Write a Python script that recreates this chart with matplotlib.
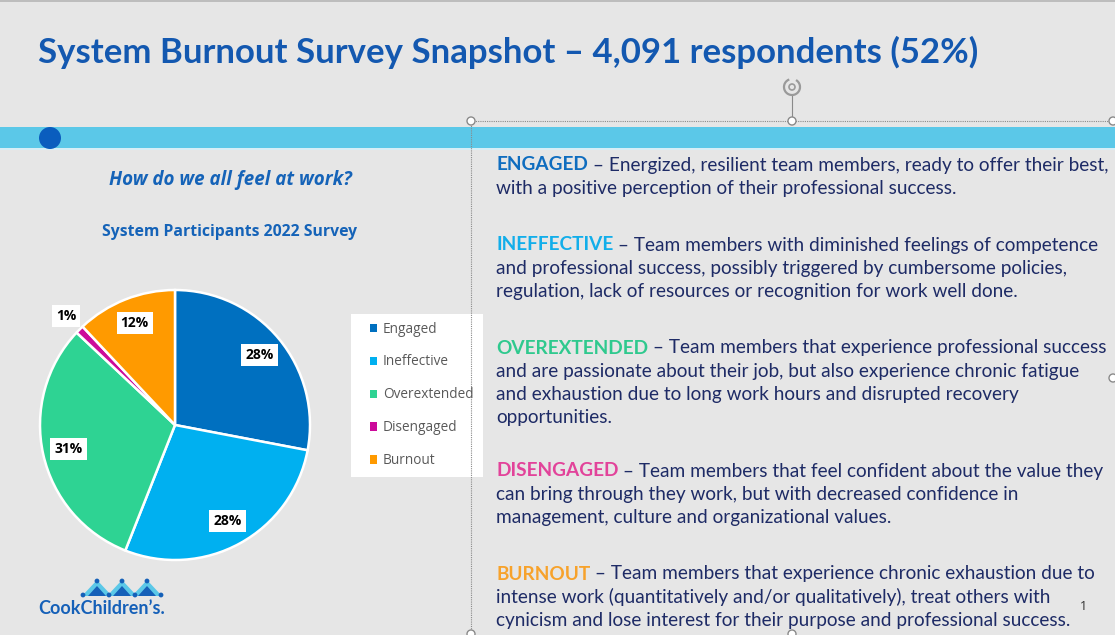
import matplotlib
matplotlib.use("Agg")
import matplotlib.pyplot as plt
from matplotlib.patches import Rectangle, Circle, Polygon, Arc
import numpy as np

# ---------------- data ----------------
categories = ["Engaged", "Ineffective", "Overextended", "Disengaged", "Burnout"]
values = [28, 28, 31, 1, 12]
colors = ["#0070C0", "#00B0F0", "#2ED393", "#CC0A9A", "#FF9A00"]

title = "System Burnout Survey Snapshot \u2013 4,091 respondents (52%)"
subtitle1 = "How do we all feel at work?"
subtitle2 = "System Participants 2022 Survey"

headings = ["ENGAGED", "INEFFECTIVE", "OVEREXTENDED", "DISENGAGED", "BURNOUT"]
heading_colors = ["#0F6DBF", "#12AEEA", "#2FC98E", "#E2439A", "#F7A22B"]
descriptions = [
    ["Energized, resilient team members, ready to offer their best,",
     "with a positive perception of their professional success."],
    ["Team members with diminished feelings of competence",
     "and professional success, possibly triggered by cumbersome policies,",
     "regulation, lack of resources or recognition for work well done."],
    ["Team members that experience professional success",
     "and are passionate about their job, but also experience chronic fatigue",
     "and exhaustion due to long work hours and disrupted recovery",
     "opportunities."],
    ["Team members that feel confident about the value they",
     "can bring through they work, but with decreased confidence in",
     "management, culture and organizational values."],
    ["Team members that experience chronic exhaustion due to",
     "intense work (quantitatively and/or qualitatively), treat others with",
     "cynicism and lose interest for their purpose and professional success."],
]

W, H = 1115, 635
BG = "#E6E6E6"
NAVY = "#1E2B66"
BLUE = "#1358B0"
BODY_FONT = "Lato"
BODY_SIZE = 13.65

fig = plt.figure(figsize=(W / 100, H / 100), dpi=100, facecolor=BG)
bg = fig.add_axes([0, 0, 1, 1])
bg.set_xlim(0, W)
bg.set_ylim(H, 0)
bg.axis("off")
bg.set_facecolor(BG)

# top thin line
bg.add_patch(Rectangle((0, 0), W, 2, color="#BDBDBD", lw=0))

# title
bg.text(38, 52, title, fontsize=25.0, fontweight="bold", color=BLUE,
        family="Lato", va="center", ha="left")

# band
bg.add_patch(Rectangle((0, 127), W, 21, color="#5BC8E8", lw=0))
bg.add_patch(Rectangle((0, 148), W, 2, color="#D6EEF6", lw=0))
bg.add_patch(Circle((50, 138), 11, color="#0A5DBE", lw=0))

# selection frame (PowerPoint UI)
bg.plot([471, W], [121, 121], ls=(0, (1, 1)), color="#8A8A8A", lw=0.8)
bg.plot([471, 471], [121, H], ls=(0, (1, 1)), color="#8A8A8A", lw=0.8, zorder=4)
bg.plot([792, 792], [96, 121], color="#8A8A8A", lw=0.8)
for (hx, hy) in [(471, 121), (792, 121), (1113, 121), (1113, 378), (471, 634), (792, 634)]:
    bg.add_patch(Circle((hx, hy), 4, facecolor="white", edgecolor="#8A8A8A", lw=1, zorder=5))
bg.add_patch(Arc((792, 87), 16, 16, theta1=-60, theta2=250, color="#9A9A9A", lw=1.6))
bg.add_patch(Circle((792, 87), 3, facecolor="none", edgecolor="#9A9A9A", lw=1.2))

# left headings
bg.text(230, 180, subtitle1, fontsize=13.5, fontweight="bold", style="italic",
        color="#1563B8", family="Open Sans", ha="center", va="center")
bg.text(230, 232, subtitle2, fontsize=11.3, fontweight="bold",
        color="#1563B8", family="Open Sans", ha="center", va="center")

# pie axes
cx, cy, r = 175, 425, 135
pax = fig.add_axes([(cx - r) / W, (H - cy - r) / H, 2 * r / W, 2 * r / H])
wedges, _ = pax.pie(values, colors=colors, startangle=90, counterclock=False,
                    wedgeprops=dict(edgecolor="white", linewidth=1.8))
pax.set_xlim(-1.0, 1.0)
pax.set_ylim(-1.0, 1.0)
pax.set_aspect("equal")
pax.axis("off")

for w, v in zip(wedges, values):
    mid = np.deg2rad((w.theta1 + w.theta2) / 2)
    d = 1.14 if v < 3 else 0.81
    pax.text(d * np.cos(mid), d * np.sin(mid), f"{v}%", ha="center", va="center",
             fontsize=10, fontweight="bold", color="black", family="Open Sans",
             bbox=dict(boxstyle="square,pad=0.3", facecolor="white", edgecolor="none"))

# legend (white panel + frameless legend)
bg.add_patch(Rectangle((351, 314), 132, 163, facecolor="white", edgecolor="none", zorder=2))
leg = fig.legend(wedges, categories, loc="upper left",
                 bbox_to_anchor=(370 / W, 1 - 321.5 / H), frameon=False,
                 borderaxespad=0, borderpad=0, handlelength=0.55,
                 handleheight=0.55, handletextpad=0.38, labelspacing=1.32,
                 prop=dict(family="Open Sans", size=9.8))
for t in leg.get_texts():
    t.set_color("#595959")
for h in leg.legend_handles:
    h.set_edgecolor("none")

# right description blocks
starts = [165, 245, 348, 471, 574]
lh = 23.3
fig.canvas.draw()
renderer = fig.canvas.get_renderer()
for head, hc, lines, y0 in zip(headings, heading_colors, descriptions, starts):
    th = bg.text(496, y0, head, fontsize=BODY_SIZE, fontweight="bold", color=hc,
                 family=BODY_FONT, va="center", ha="left")
    wpx = th.get_window_extent(renderer).width
    bg.text(496 + wpx, y0, " \u2013 " + lines[0], fontsize=BODY_SIZE, color=NAVY,
            family=BODY_FONT, va="center", ha="left")
    for i, ln in enumerate(lines[1:], start=1):
        bg.text(496, y0 + i * lh, ln, fontsize=BODY_SIZE, color=NAVY,
                family=BODY_FONT, va="center", ha="left")

# page number
bg.text(1083, 607, "1", fontsize=9, color="#333333", family="Open Sans",
        ha="center", va="center")

# logo
light = "#5BC8E8"
dark = "#1560B8"
peaks = [97, 122, 147]
for px in peaks:
    bg.add_patch(Polygon([(px - 15, 596), (px, 580), (px + 15, 596)], closed=True,
                         facecolor=light, edgecolor="none"))
    bg.add_patch(Polygon([(px - 9, 596), (px, 586), (px + 9, 596)], closed=True,
                         facecolor=dark, edgecolor="none"))
    bg.add_patch(Circle((px, 581), 2.4, color=dark, lw=0))
for bx in [83, 109, 135, 161]:
    bg.add_patch(Circle((bx, 595), 2.4, color=dark, lw=0))
bg.text(38, 608, "CookChildren\u2019s.", fontsize=13, fontweight="bold", color=dark,
        family="Lato", ha="left", va="center")

fig.savefig("out.png", dpi=100, facecolor=BG)
